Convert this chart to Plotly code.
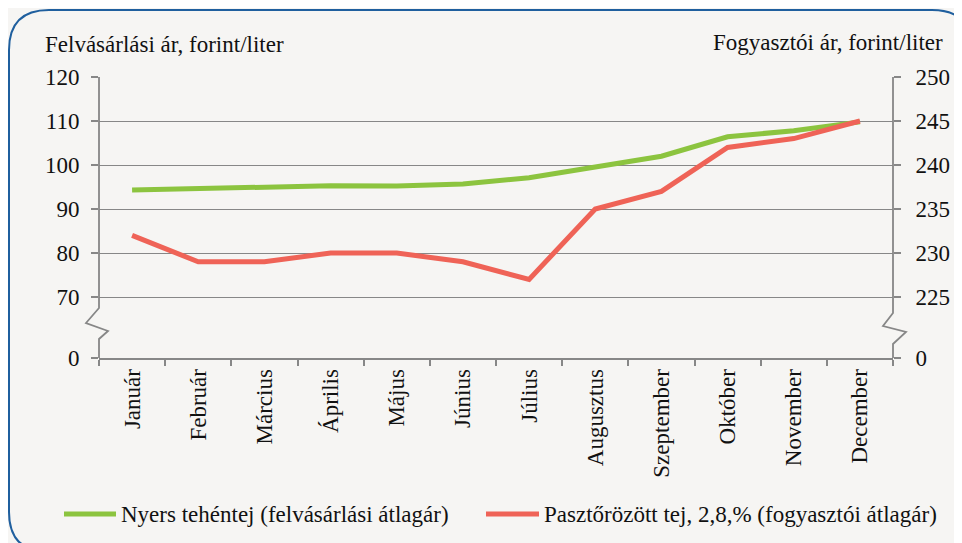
import plotly.graph_objects as go

months = ["Január", "Február", "Március", "Április", "Május", "Június",
          "Július", "Augusztus", "Szeptember", "Október", "November", "December"]
nyers = [94.3, 94.7, 94.9, 95.3, 95.2, 95.7, 97.1, 99.6, 102.0, 106.4, 107.8, 109.8]
paszt = [232, 229, 229, 230, 230, 229, 227, 235, 237, 242, 243, 245]

left_ticks = [70, 80, 90, 100, 110, 120]
right_ticks = [225, 230, 235, 240, 245, 250]
left_title = "Felvásárlási ár, forint/liter"
right_title = "Fogyasztói ár, forint/liter"
name_nyers = "Nyers tehéntej (felvásárlási átlagár)"
name_paszt = "Pasztőrözött tej, 2,8,% (fogyasztói átlagár)"

OFF = 8  # page body margin
W, H = 962, 543
PL, PR, PT, PB = 99 - OFF, 893 - OFF, 77 - OFF, 358 - OFF
FONT = "Liberation Serif, Times New Roman, serif"
FS = 23
GREEN = "#8cc43f"
RED = "#ef6357"
GREY = "#878787"
BG = "#f6f5f3"

# broken axis: bottom of axis represents 0
L_MIN = 70 - (358 - 297) * (50 / 220)
R_MIN = 225 - (358 - 297) * (25 / 220)


def px(x):
    return (x - OFF - PL) / (PR - PL)


def py(y):
    return (PB - (y - OFF)) / (PB - PT)


fig = go.Figure()
fig.add_trace(go.Scatter(x=months, y=nyers, mode="lines", name=name_nyers,
                         line=dict(color=GREEN, width=5), yaxis="y"))
fig.add_trace(go.Scatter(x=months, y=paszt, mode="lines", name=name_paszt,
                         line=dict(color=RED, width=5), yaxis="y2"))

shapes = []
# rounded border (reference page pixel coordinates)
x0, y0, x1, y1, r = 9, 10, 972, 552, 40
pts = (f"M {px(x0+r)},{py(y0)} L {px(x1-r)},{py(y0)} "
       f"Q {px(x1)},{py(y0)} {px(x1)},{py(y0+r)} L {px(x1)},{py(y1-r)} "
       f"Q {px(x1)},{py(y1)} {px(x1-r)},{py(y1)} L {px(x0+r)},{py(y1)} "
       f"Q {px(x0)},{py(y1)} {px(x0)},{py(y1-r)} L {px(x0)},{py(y0+r)} "
       f"Q {px(x0)},{py(y0)} {px(x0+r)},{py(y0)} Z")
shapes.append(dict(type="path", xref="paper", yref="paper", path=pts,
                   line=dict(color="#1f5f9e", width=2), layer="below"))


def axis_path(xp, ys, dx):
    return "M " + " L ".join(f"{px(xp + d)},{py(y)}" for d, y in zip(dx, ys))


shapes.append(dict(type="path", xref="paper", yref="paper",
                   path=axis_path(99, [77, 308, 323, 331, 339, 358], [0, 0, -13, 9, 0, 0]),
                   line=dict(color=GREY, width=1.8)))
shapes.append(dict(type="path", xref="paper", yref="paper",
                   path=axis_path(893, [77, 313, 326, 332, 344, 358], [0, 0, -10, 13, 0, 0]),
                   line=dict(color=GREY, width=1.8)))

# legend samples
shapes.append(dict(type="line", xref="paper", yref="paper",
                   x0=px(64), x1=px(116), y0=py(514), y1=py(514),
                   line=dict(color=GREEN, width=5)))
shapes.append(dict(type="line", xref="paper", yref="paper",
                   x0=px(486), x1=px(539), y0=py(514), y1=py(514),
                   line=dict(color=RED, width=5)))

tf = dict(family=FONT, size=FS, color="#111")
annotations = [
    dict(text=left_title, xref="paper", yref="paper", x=px(43), y=py(44),
         xanchor="left", yanchor="middle", showarrow=False, font=tf),
    dict(text=right_title, xref="paper", yref="paper", x=px(945), y=py(42),
         xanchor="right", yanchor="middle", showarrow=False, font=tf),
    dict(text=name_nyers, xref="paper", yref="paper", x=px(119), y=py(514),
         xanchor="left", yanchor="middle", showarrow=False, font=tf),
    dict(text=name_paszt, xref="paper", yref="paper", x=px(542), y=py(514),
         xanchor="left", yanchor="middle", showarrow=False, font=tf),
]

fig.update_layout(
    width=W, height=H,
    margin=dict(l=PL, r=W - PR, t=PT, b=H - PB, pad=0),
    paper_bgcolor=BG, plot_bgcolor=BG,
    showlegend=False,
    font=tf,
    xaxis=dict(type="category", range=[-0.5, 11.5], tickangle=-90,
               ticks="outside", tickson="boundaries", ticklen=6, tickwidth=1.5,
               tickcolor=GREY, showline=True, linecolor=GREY, linewidth=1.8,
               showgrid=False, zeroline=False, tickfont=tf),
    yaxis=dict(range=[L_MIN, 120], tickvals=[L_MIN] + left_ticks,
               ticktext=["0"] + [str(v) for v in left_ticks],
               ticks="outside", ticklen=7, tickwidth=1.5, tickcolor=GREY,
               showline=False, showgrid=True, gridcolor=GREY, gridwidth=1.3,
               zeroline=False, ticklabelstandoff=7, tickfont=tf),
    yaxis2=dict(range=[R_MIN, 250], tickvals=[R_MIN] + right_ticks,
                ticktext=["0"] + [str(v) for v in right_ticks],
                overlaying="y", side="right",
                ticks="outside", ticklen=7, tickwidth=1.5, tickcolor=GREY,
                showline=False, showgrid=False, zeroline=False, ticklabelstandoff=10,
                tickfont=tf),
    shapes=shapes,
    annotations=annotations,
)

fig.write_html("out.html")
